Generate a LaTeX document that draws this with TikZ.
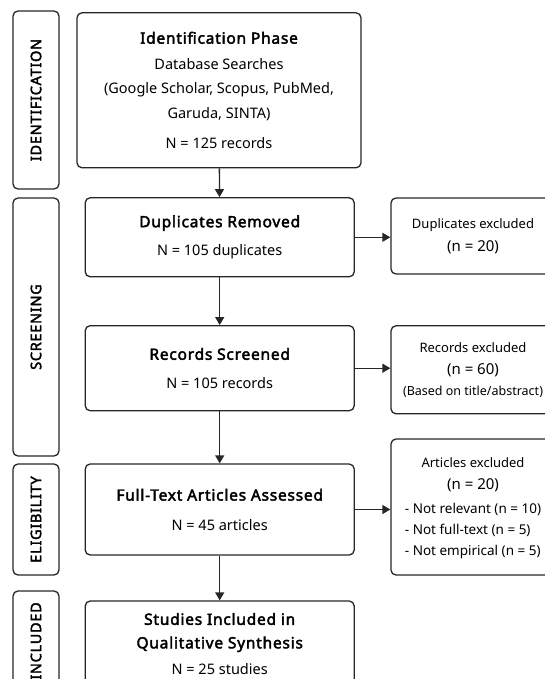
\documentclass[tikz,border=0pt]{standalone}
\usepackage{fontspec}
\setmainfont{Noto Sans}[BoldFont={Noto Sans}, BoldFeatures={FakeBold=2.6, LetterSpace=5}]
\usetikzlibrary{shapes,arrows.meta,positioning}

\newcommand{\exclcount}[1]{{\fontsize{15}{22}\selectfont #1}}

\tikzset{
  box/.style={draw=black!85, line width=1.3pt, rounded corners=5pt, align=center, inner sep=2pt},
  mainbox/.style={box, minimum width=269pt, font=\fontsize{14.5}{24.5}\selectfont},
  exclbox/.style={box, minimum width=164pt, font=\fontsize{13}{22.5}\selectfont},
  phase/.style={box, rotate=90, minimum height=46pt, font=\bfseries\fontsize{14.5}{15}\selectfont},
  flow/.style={-{Triangle[length=8pt,width=9pt]}, line width=1.3pt, draw=black!85},
}

\begin{document}
\begin{tikzpicture}[x=1pt, y=-1pt]
  \useasboundingbox (0,0) rectangle (545,679);
  \clip (0,0) rectangle (545,679);

  % Phase labels
  \node[phase, minimum width=178pt] (pident) at (36,100) {IDENTIFICATION};
  \node[phase, minimum width=258pt] (pscreen) at (36,327) {SCREENING};
  \node[phase, minimum width=111pt] (pelig) at (36,519.5) {ELIGIBILITY};
  \node[phase, minimum width=100pt] (pincl) at (36,641) {INCLUDED};

  % Main flow
  \node[mainbox, minimum width=284pt, minimum height=155pt] (ident) at (219,90.3)
    {{\bfseries\fontsize{15.5}{22}\selectfont Identification Phase}\\[1pt] Database Searches\\ (Google Scholar, Scopus, PubMed,\\ Garuda, SINTA)\\[6pt] N = 125 records};
  \node[mainbox, minimum height=79pt] (dup) at (219.7,237.3)
    {{\bfseries\fontsize{15.5}{22}\selectfont Duplicates Removed}\\[4pt] N = 105 duplicates};
  \node[mainbox, minimum height=85pt] (rec) at (219.7,368.2)
    {{\bfseries\fontsize{15.5}{22}\selectfont Records Screened}\\[4pt] N = 105 records};
  \node[mainbox, minimum height=91pt] (full) at (219.7,509.5)
    {{\bfseries\fontsize{15.5}{22}\selectfont Full-Text Articles Assessed}\\[5pt] N = 45 articles};
  \node[mainbox, minimum height=86pt] (incl) at (219.7,644)
    {{\bfseries\fontsize{15.5}{22}\selectfont Studies Included in}\\[-1pt] {\bfseries\fontsize{15.5}{22}\selectfont Qualitative Synthesis}\\[2pt] N = 25 studies};

  % Exclusions
  \node[exclbox, minimum height=76pt] (dupx) at (473,236)
    {Duplicates excluded\\ \exclcount{(n = 20)}};
  \node[exclbox, minimum height=88pt] (recx) at (473,369.8)
    {Records excluded\\ \exclcount{(n = 60)}\\[-2pt] {\fontsize{12.5}{20}\selectfont (Based on title/abstract)}};
  \node[exclbox, minimum height=136pt, font=\fontsize{13}{21.5}\selectfont] (artx) at (473,507)
    {\rule{0pt}{15pt}Articles excluded\\ \exclcount{(n = 20)}\\[6pt]
     {\fontsize{13.5}{21}\selectfont\begin{tabular}{@{}l@{}}- Not relevant (n = 10)\\ - Not full-text (n = 5)\\ - Not empirical (n = 5)\end{tabular}}};

  % Arrows
  \draw[flow] (ident) -- (dup);
  \draw[flow] (dup) -- (rec);
  \draw[flow] (rec) -- (full);
  \draw[flow] (full) -- (incl);
  \draw[flow] (dup.east) -- (dup.east -| dupx.west);
  \draw[flow] (rec.east) -- (rec.east -| recx.west);
  \draw[flow] (full.east) -- (full.east -| artx.west);
\end{tikzpicture}
\end{document}
